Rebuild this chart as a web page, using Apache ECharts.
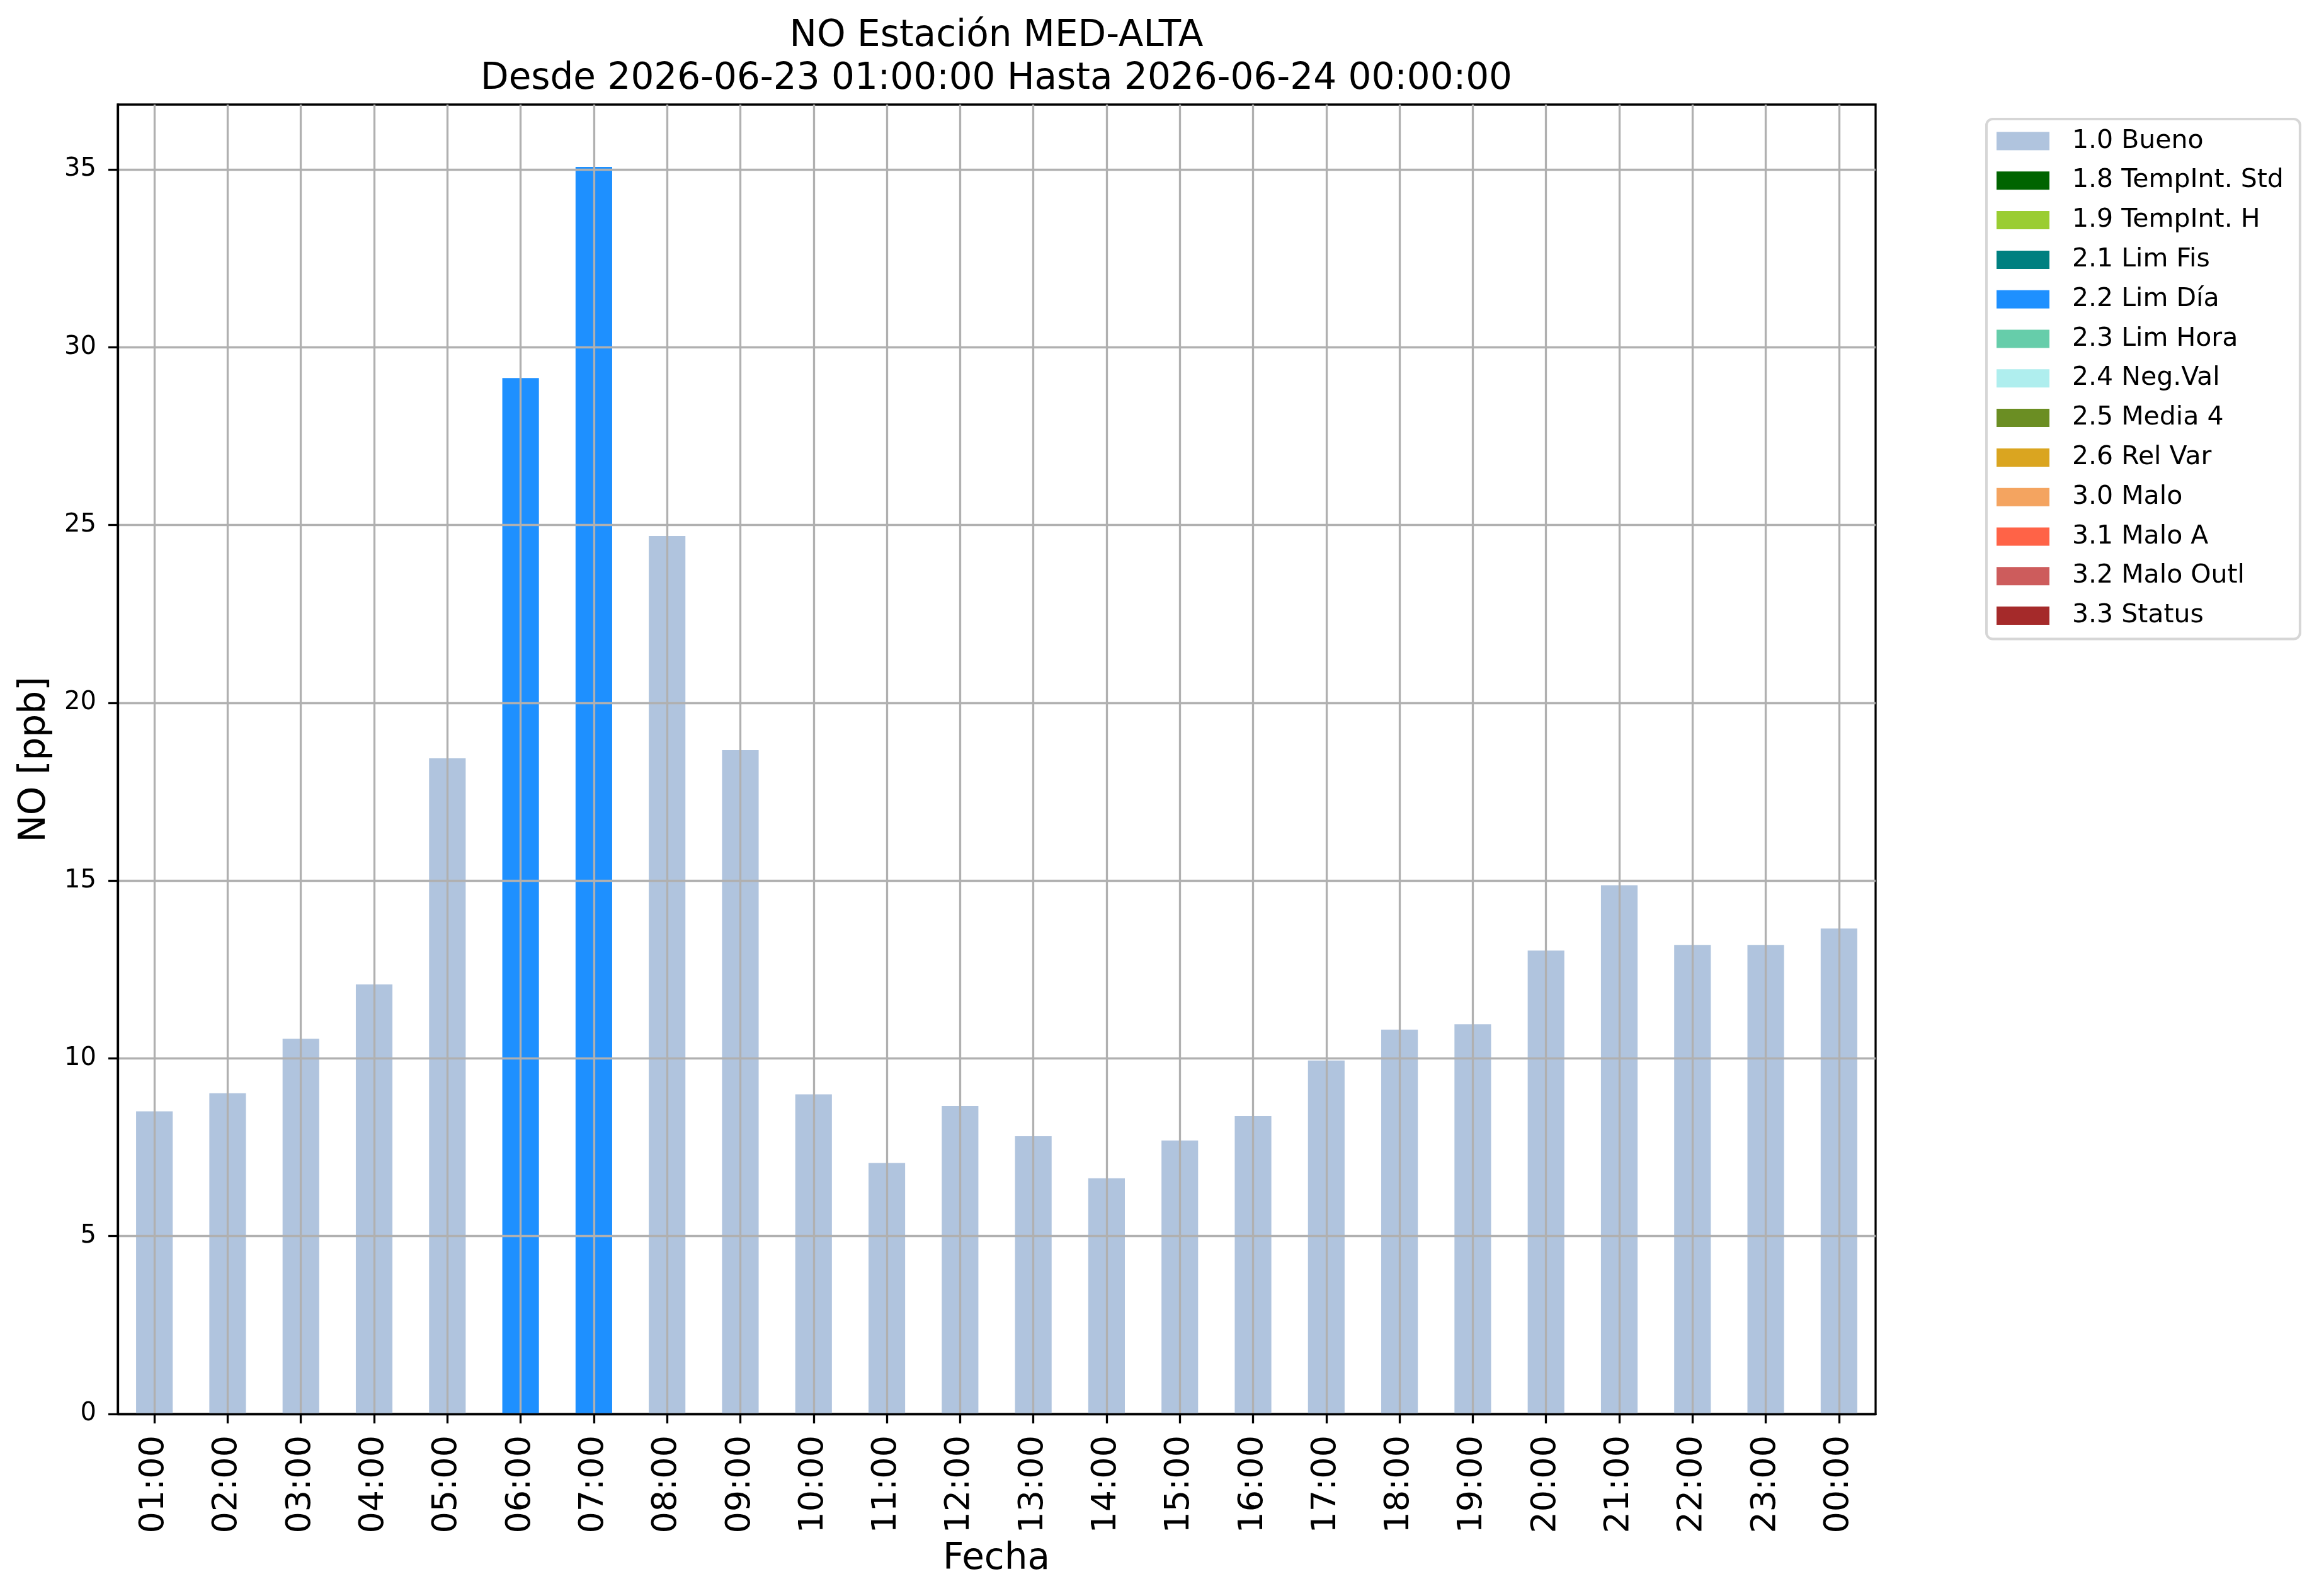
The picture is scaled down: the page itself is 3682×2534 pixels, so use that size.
<!DOCTYPE html>
<html>
<head>
<meta charset="utf-8">
<title>NO Estación MED-ALTA</title>
<script src="https://cdn.jsdelivr.net/npm/echarts@6/dist/echarts.min.js"></script>
<style>
  html, body { margin: 0; padding: 0; background: #fff; }
  #chart { width: 3682px; height: 2534px; }
</style>
</head>
<body>
<div id="chart"></div>
<script>
// ---- datos ----
const horas = ['01:00', '02:00', '03:00', '04:00', '05:00', '06:00', '07:00', '08:00',
  '09:00', '10:00', '11:00', '12:00', '13:00', '14:00', '15:00', '16:00',
  '17:00', '18:00', '19:00', '20:00', '21:00', '22:00', '23:00', '00:00'];

// NO [ppb] por hora
const valores = [8.51, 9.02, 10.55, 12.08, 18.44, 29.13, 35.07, 24.69,
  18.67, 8.99, 7.06, 8.66, 7.81, 6.63, 7.69, 8.38,
  9.94, 10.81, 10.96, 13.03, 14.87, 13.19, 13.19, 13.65];

// código de calidad de cada hora
const flags = ['1.0', '1.0', '1.0', '1.0', '1.0', '2.2', '2.2', '1.0',
  '1.0', '1.0', '1.0', '1.0', '1.0', '1.0', '1.0', '1.0',
  '1.0', '1.0', '1.0', '1.0', '1.0', '1.0', '1.0', '1.0'];

const codigos = ['1.0', '1.8', '1.9', '2.1', '2.2', '2.3', '2.4', '2.5', '2.6', '3.0', '3.1', '3.2', '3.3'];
const nombres = ['1.0 Bueno', '1.8 TempInt. Std', '1.9 TempInt. H', '2.1 Lim Fis', '2.2 Lim Día',
  '2.3 Lim Hora', '2.4 Neg.Val', '2.5 Media 4', '2.6 Rel Var', '3.0 Malo', '3.1 Malo A',
  '3.2 Malo Outl', '3.3 Status'];
const colores = ['#B0C4DE', '#006400', '#9ACD32', '#008080', '#1E90FF', '#66CDAA', '#AFEEEE',
  '#6B8E23', '#DAA520', '#F4A460', '#FF6347', '#CD5C5C', '#A52A2A'];

const yTicks = [0, 5, 10, 15, 20, 25, 30, 35];

// ---- gráfico ----
const FONT = 'DejaVu Sans';
const GRID_COLOR = '#b0b0b0';
const LW = 3.3;
const yMax = Math.max(...valores) * 1.05;

const chart = echarts.init(document.getElementById('chart'), null, { renderer: 'canvas' });

// una serie por código, apiladas para que compartan posición
const series = codigos.map((cod, k) => ({
  name: nombres[k],
  type: 'bar',
  stack: 'calidad',
  barWidth: '50%',
  itemStyle: { color: colores[k] },
  data: valores.map((v, i) => (flags[i] === cod ? v : '-'))
}));

const option = {
  animation: false,
  backgroundColor: '#ffffff',
  textStyle: { fontFamily: FONT },
  title: {
    text: 'NO Estación MED-ALTA\nDesde 2026-06-23 01:00:00 Hasta 2026-06-24 00:00:00',
    left: 1582,
    top: 24,
    padding: 0,
    textAlign: 'center',
    textStyle: {
      fontFamily: FONT,
      fontSize: 58,
      fontWeight: 'normal',
      color: '#000',
      lineHeight: 68
    }
  },
  legend: {
    orient: 'vertical',
    left: 3154,
    top: 189,
    padding: [14, 26, 16, 16],
    itemWidth: 84,
    itemHeight: 29,
    itemGap: 20.8,
    icon: 'rect',
    selectedMode: false,
    borderColor: '#d6d6d6',
    borderWidth: 4,
    borderRadius: 10,
    backgroundColor: '#ffffff',
    textStyle: { fontFamily: FONT, fontSize: 41, color: '#000', lineHeight: 42, padding: [0, 0, 0, 31] },
    data: nombres
  },
  grid: {
    left: 187,
    right: 704,
    top: 166,
    bottom: 289,
    show: true,
    borderColor: '#000',
    borderWidth: LW,
    backgroundColor: 'transparent'
  },
  xAxis: {
    type: 'category',
    data: horas,
    z: 3,
    boundaryGap: true,
    axisLine: { show: true, lineStyle: { color: '#000', width: LW } },
    axisTick: { show: true, alignWithLabel: true, interval: 0, length: 15, lineStyle: { color: '#000', width: LW } },
    axisLabel: { interval: 0, rotate: 90, margin: 34, fontFamily: FONT, fontSize: 54, color: '#000' },
    splitLine: { show: true, alignWithLabel: true, interval: 0, lineStyle: { color: GRID_COLOR, width: LW } }
  },
  yAxis: {
    type: 'value',
    min: 0,
    max: yMax,
    interval: 5,
    z: 3,
    axisLine: { show: true, lineStyle: { color: '#000', width: LW } },
    axisTick: { show: true, length: 15, customValues: yTicks, lineStyle: { color: '#000', width: LW } },
    axisLabel: {
      margin: 34,
      fontFamily: FONT,
      fontSize: 40,
      color: '#000',
      customValues: yTicks,
      formatter: v => (yTicks.includes(Math.round(v * 1000) / 1000) ? String(v) : '')
    },
    splitLine: { show: true, lineStyle: { color: GRID_COLOR, width: LW } }
  },
  graphic: [
    {
      type: 'text',
      x: 56,
      y: 1206,
      rotation: Math.PI / 2,
      style: {
        text: 'NO [ppb]',
        font: '58px "DejaVu Sans"',
        fill: '#000',
        align: 'center',
        verticalAlign: 'middle'
      }
    },
    {
      type: 'text',
      x: 1582,
      y: 2476,
      style: {
        text: 'Fecha',
        font: '58px "DejaVu Sans"',
        fill: '#000',
        align: 'center',
        verticalAlign: 'middle'
      }
    }
  ],
  series: series
};

chart.setOption(option);
</script>
</body>
</html>
